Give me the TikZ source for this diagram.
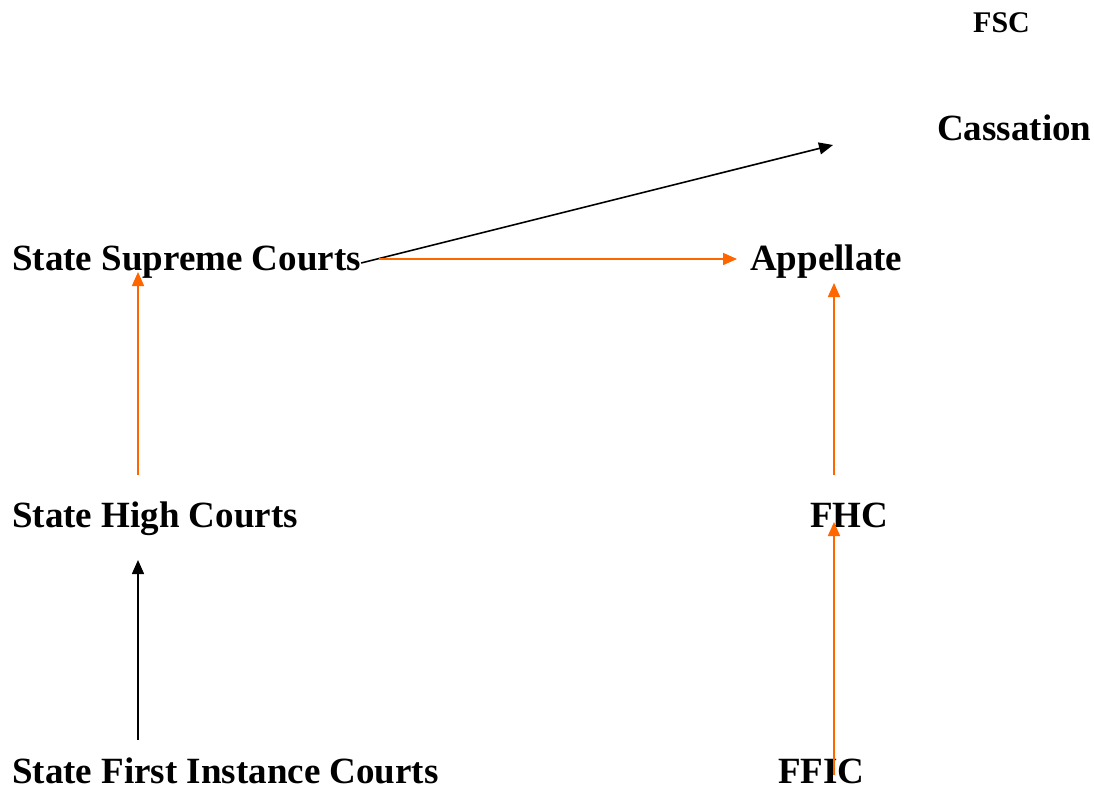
\documentclass[tikz,border=0pt]{standalone}
\usepackage{fontspec}
\setmainfont{Liberation Serif}
\usetikzlibrary{arrows.meta}
\definecolor{appealorange}{RGB}{255,102,0}
\begin{document}
\begin{tikzpicture}[x=1pt,y=-1pt]

% definitions
\tikzstyle{court} = [inner sep=0pt, anchor=base west, font=\fontsize{37}{40}\selectfont\bfseries]

\tikzstyle{smallcourt} = [inner sep=0pt, anchor=base west, font=\fontsize{30}{32}\selectfont\bfseries]

\tikzstyle{arrow} = [line width=1.6pt, -{Triangle[length=14pt,width=12pt]}]

\tikzstyle{orangearrow} = [arrow, draw=appealorange, fill=appealorange]

\useasboundingbox (0,0) rectangle (1094,789);

% the graph
\node (fsc) [smallcourt] at (973,33) {FSC};

\node (cas) [court] at (937,140) {Cassation};

\node (ssc) [court] at (12,270) {State Supreme Courts};

\node (app) [court] at (750,270) {Appellate};

\node (shc) [court] at (12,527) {State High Courts};

\node (fhc) [court] at (810,527) {FHC};

\node (sfic) [court] at (12,783) {State First Instance Courts};

\node (ffic) [court] at (778,783) {FFIC};


\draw [arrow] ([yshift=7pt]ssc.base east) -- ([xshift=-104pt,yshift=-5pt]cas.base west);
\draw [orangearrow] ([xshift=18pt,yshift=11pt]ssc.base east) -- ([xshift=-13pt,yshift=11pt]app.base west);
\draw [orangearrow] ([xshift=126pt,yshift=52pt]shc.base west) -- ([xshift=126pt,yshift=-2pt]ssc.base west);
\draw [orangearrow] ([xshift=24pt,yshift=52pt]fhc.base west) -- ([xshift=84pt,yshift=-13pt]app.base west);
\draw [arrow] ([xshift=126pt,yshift=43pt]sfic.base west) -- ([xshift=126pt,yshift=-33pt]shc.base west);
\draw [orangearrow] ([xshift=56pt,yshift=8pt]ffic.base west) -- ([xshift=24pt,yshift=5pt]fhc.base west);

\end{tikzpicture}
\end{document}
